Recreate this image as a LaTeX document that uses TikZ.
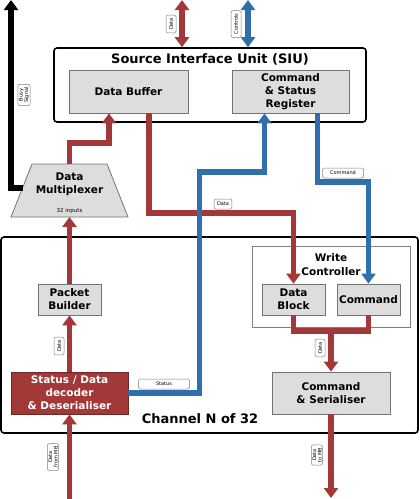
\documentclass[tikz,border=0pt]{standalone}
\usepackage{fontspec}
\setmainfont{DejaVu Sans}
\usetikzlibrary{arrows.meta}
\definecolor{busred}{RGB}{163,56,56}
\definecolor{busblue}{RGB}{48,110,172}
\definecolor{boxgray}{RGB}{221,221,221}
\begin{document}
\begin{tikzpicture}[x=1pt,y=-1pt,>={Triangle[width=14pt,length=10pt]},
    unit/.style={draw=black,line width=1.6pt,rounded corners=3pt,fill=white,inner sep=0pt},
    block/.style={draw=gray!90!black,fill=boxgray,line width=0.8pt,inner sep=0pt,align=center,
        font=\bfseries\fontsize{10.5}{13}\selectfont},
    heading/.style={font=\bfseries\fontsize{13}{15}\selectfont},
    tag/.style={draw=gray,rounded corners=2pt,fill=white,inner xsep=3pt,inner ysep=1pt,
        minimum height=10pt,align=center,font=\fontsize{5}{5.5}\selectfont,line width=0.5pt},
    redflow/.style={draw=busred,line width=5.5pt},
    blueflow/.style={draw=busblue,line width=5.5pt}]
    \useasboundingbox (0,0) rectangle (420,499);

    \node[unit,minimum width=312pt,minimum height=74pt] (siu) at (210,85) {};
    \node[heading] (siutitle) at (210,59) {Source Interface Unit (SIU)};
    \node[block,minimum width=119pt,minimum height=43pt] (buffer) at (128.5,91.5) {Data Buffer};
    \node[block,minimum width=117pt,minimum height=43pt] (csr) at (290.5,91.5) {Command\\\& Status\\Register};

    \node[unit,minimum width=417pt,minimum height=196pt] (channel) at (209.5,335) {};
    \node[heading] (chantitle) at (200,419) {Channel N of 32};
    \node[draw=gray,fill=white,line width=0.8pt,minimum width=158pt,minimum height=81pt] (wctrl) at (331,286.5) {};
    \node[align=center,font=\bfseries\fontsize{10.5}{14}\selectfont] (wctitle) at (331,265) {Write\\Controller};
    \node[block,minimum width=63pt,minimum height=31pt] (datablock) at (293.5,299.5) {Data\\Block};
    \node[block,minimum width=63pt,minimum height=31pt] (command) at (368.5,299.5) {Command};
    \node[block,minimum width=118pt,minimum height=42pt] (serialiser) at (331,393) {Command\\\& Serialiser};
    \node[block,minimum width=63pt,minimum height=31pt] (packet) at (69.5,299.5) {Packet\\Builder};
    \node[block,fill=busred,draw=busred!70!black,text=white,minimum width=117pt,minimum height=42pt] (decoder) at (69.5,393) {Status / Data\\decoder\\\& Deserialiser};

    \draw[draw=gray!90!black,fill=boxgray,line width=0.8pt] (32,164) -- (107,164) -- (128,217) -- (11,217) -- cycle;
    \coordinate (muxtop) at (69.5,164);
    \coordinate (muxbottom) at (69.5,217);
    \coordinate (muxleft) at (22.5,188);
    \node[align=center,font=\bfseries\fontsize{10.5}{13}\selectfont] (muxtext) at (69.5,184.5) {Data\\Multiplexer};
    \node[font=\fontsize{5.5}{6}\selectfont] (muxnote) at (69.5,211) {32 inputs};

    \coordinate (dataio) at (182,0);
    \coordinate (ctrlio) at (248,0);
    \coordinate (busytop) at (11,0);
    \coordinate (muxbend) at (109,143);
    \coordinate (bufbend) at (149,213);
    \coordinate (statbend) at (199.5,172);
    \coordinate (cmdbend) at (368.5,182);
    \coordinate (merge) at (331,331);
    \coordinate (mbin) at (69.5,499);
    \coordinate (mbout) at (331,498);

    \draw[redflow,<->] (dataio) -- (dataio |- siu.north);
    \draw[blueflow,<->] (ctrlio) -- (ctrlio |- siu.north);
    \draw[line width=5.5pt,->] (muxleft) -| (busytop);
    \draw[redflow,->] (muxtop) |- (muxbend) -- (muxbend |- buffer.south);
    \draw[redflow,->] (bufbend |- buffer.south) -- (bufbend) -| (datablock.north);
    \draw[blueflow,->] (decoder.east) -| (statbend) -| ([xshift=-26pt]csr.south);
    \draw[blueflow,->] ([xshift=27pt]csr.south) |- (cmdbend) -- (command.north);
    \draw[redflow] (datablock.south) |- (merge) -| (command.south);
    \draw[redflow,->] (merge) -- (serialiser.north);
    \draw[redflow,->] (serialiser.south) -- (mbout);
    \draw[redflow,->] (mbin) -- (decoder.south);
    \draw[redflow,->] (decoder.north) -- (packet.south);
    \draw[redflow,->] (packet.north) -- (muxbottom);

    \node[tag,rotate=90] (datatag) at (171,24) {Data};
    \node[tag,rotate=90] (ctrltag) at (236,24) {Controls};
    \node[tag,rotate=90] (busytag) at (24,95) {Busy\\Signal};
    \node[tag] (buftag) at (223,204) {Data};
    \node[tag,minimum width=41pt] (cmdtag) at (343,173) {Command};
    \node[tag,minimum width=51pt] (stattag) at (164,384) {Status};
    \node[tag,rotate=90] (pkttag) at (59,346) {Data};
    \node[tag,rotate=90] (outtag) at (320,348) {Data};
    \node[tag,rotate=90] (mbintag) at (53,457) {Data\\from MB};
    \node[tag,rotate=90] (mbouttag) at (317,455) {Data\\to MB};
\end{tikzpicture}
\end{document}
